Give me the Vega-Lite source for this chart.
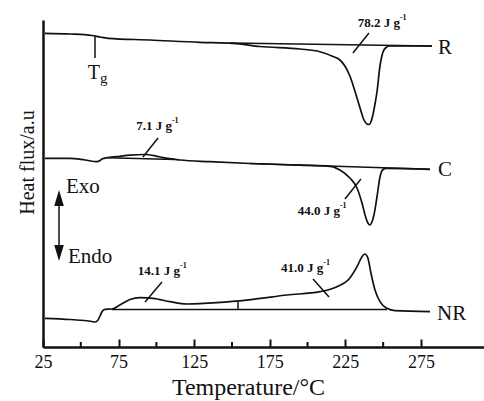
{
  "$schema": "https://vega.github.io/schema/vega-lite/v6.json",
  "width": 441,
  "height": 327,
  "autosize": {"type": "none"},
  "padding": {"left": 43, "top": 20, "right": 0, "bottom": 54},
  "background": "white",
  "config": {"view": {"stroke": null}, "font": "Liberation Serif"},
  "datasets": {
    "curves": [
      {"id": "R", "T": 26.3, "f": 313.7}, {"id": "R", "T": 42.9, "f": 313}, {"id": "R", "T": 57.4, "f": 311.5}, {"id": "R", "T": 62.7, "f": 310}, {"id": "R", "T": 68.0, "f": 308.7}, {"id": "R", "T": 95.8, "f": 307}, {"id": "R", "T": 128.8, "f": 304.7}, {"id": "R", "T": 150.7, "f": 303.7}, {"id": "R", "T": 168.5, "f": 300.5}, {"id": "R", "T": 195.0, "f": 298}, {"id": "R", "T": 208.2, "f": 295.3}, {"id": "R", "T": 216.8, "f": 290.5}, {"id": "R", "T": 221.4, "f": 287}, {"id": "R", "T": 224.7, "f": 281}, {"id": "R", "T": 228.0, "f": 271}, {"id": "R", "T": 231.3, "f": 256}, {"id": "R", "T": 234.7, "f": 239}, {"id": "R", "T": 237.3, "f": 227}, {"id": "R", "T": 239.3, "f": 223}, {"id": "R", "T": 240.6, "f": 222.5}, {"id": "R", "T": 241.9, "f": 225}, {"id": "R", "T": 243.2, "f": 232}, {"id": "R", "T": 244.6, "f": 243}, {"id": "R", "T": 245.9, "f": 255}, {"id": "R", "T": 247.9, "f": 281}, {"id": "R", "T": 249.9, "f": 295}, {"id": "R", "T": 251.9, "f": 299.5}, {"id": "R", "T": 254.5, "f": 301}, {"id": "R", "T": 282.3, "f": 301},
      {"id": "C", "T": 26.3, "f": 188.7}, {"id": "C", "T": 42.9, "f": 188.7}, {"id": "C", "T": 52.8, "f": 187}, {"id": "C", "T": 60.7, "f": 185.3}, {"id": "C", "T": 62.7, "f": 186.5}, {"id": "C", "T": 64.0, "f": 188}, {"id": "C", "T": 68.0, "f": 189.3}, {"id": "C", "T": 75.9, "f": 190.7}, {"id": "C", "T": 82.5, "f": 191.8}, {"id": "C", "T": 92.5, "f": 192.5}, {"id": "C", "T": 99.1, "f": 191.2}, {"id": "C", "T": 104.4, "f": 189.3}, {"id": "C", "T": 115.6, "f": 187}, {"id": "C", "T": 135.4, "f": 185.3}, {"id": "C", "T": 161.9, "f": 183.5}, {"id": "C", "T": 195.0, "f": 181.8}, {"id": "C", "T": 214.8, "f": 180.7}, {"id": "C", "T": 221.4, "f": 177}, {"id": "C", "T": 228.0, "f": 169}, {"id": "C", "T": 232.7, "f": 159}, {"id": "C", "T": 236.0, "f": 144}, {"id": "C", "T": 238.6, "f": 129}, {"id": "C", "T": 239.9, "f": 124}, {"id": "C", "T": 241.2, "f": 122}, {"id": "C", "T": 242.6, "f": 125}, {"id": "C", "T": 243.9, "f": 132}, {"id": "C", "T": 245.9, "f": 150}, {"id": "C", "T": 247.9, "f": 170}, {"id": "C", "T": 249.9, "f": 177.5}, {"id": "C", "T": 251.9, "f": 178.7}, {"id": "C", "T": 281.0, "f": 177.7},
      {"id": "NR", "T": 26.3, "f": 28.7}, {"id": "NR", "T": 42.9, "f": 27.5}, {"id": "NR", "T": 57.4, "f": 25.5}, {"id": "NR", "T": 59.4, "f": 25}, {"id": "NR", "T": 61.4, "f": 27}, {"id": "NR", "T": 62.7, "f": 31}, {"id": "NR", "T": 64.0, "f": 35.3}, {"id": "NR", "T": 66.0, "f": 37.7}, {"id": "NR", "T": 70.6, "f": 38}, {"id": "NR", "T": 75.9, "f": 42}, {"id": "NR", "T": 82.5, "f": 47.5}, {"id": "NR", "T": 89.2, "f": 49.3}, {"id": "NR", "T": 97.8, "f": 48.7}, {"id": "NR", "T": 109.0, "f": 45.3}, {"id": "NR", "T": 120.2, "f": 43}, {"id": "NR", "T": 140.1, "f": 44.3}, {"id": "NR", "T": 163.9, "f": 47.7}, {"id": "NR", "T": 186.4, "f": 52}, {"id": "NR", "T": 208.2, "f": 55.3}, {"id": "NR", "T": 219.4, "f": 60.3}, {"id": "NR", "T": 228.0, "f": 69}, {"id": "NR", "T": 232.7, "f": 80.3}, {"id": "NR", "T": 236.0, "f": 90.3}, {"id": "NR", "T": 237.9, "f": 93}, {"id": "NR", "T": 239.9, "f": 89}, {"id": "NR", "T": 241.9, "f": 74}, {"id": "NR", "T": 244.6, "f": 57}, {"id": "NR", "T": 247.9, "f": 45.3}, {"id": "NR", "T": 252.5, "f": 38.7}, {"id": "NR", "T": 257.8, "f": 36.3}, {"id": "NR", "T": 281.0, "f": 35.3}
    ],
    "segments": [
      {"id": "Rb", "T": 148.7, "f": 304}, {"id": "Rb", "T": 282.3, "f": 301},
      {"id": "Cb", "T": 161.9, "f": 183.5}, {"id": "Cb", "T": 281.0, "f": 177.7},
      {"id": "Cbb", "T": 68.0, "f": 189.3}, {"id": "Cbb", "T": 112.3, "f": 187.5},
      {"id": "NRb", "T": 70.6, "f": 37.5}, {"id": "NRb", "T": 252.5, "f": 37.5},
      {"id": "NRt", "T": 154.0, "f": 37.5}, {"id": "NRt", "T": 154.0, "f": 45.5},
      {"id": "Tgl", "T": 59.4, "f": 311}, {"id": "Tgl", "T": 59.4, "f": 289},
      {"id": "s78", "T": 230.0, "f": 294}, {"id": "s78", "T": 240.6, "f": 314},
      {"id": "s71", "T": 91.1, "f": 190}, {"id": "s71", "T": 101.1, "f": 209},
      {"id": "s44", "T": 224.7, "f": 148}, {"id": "s44", "T": 235.3, "f": 168},
      {"id": "s14", "T": 92.5, "f": 45}, {"id": "s14", "T": 103.7, "f": 65},
      {"id": "s41", "T": 203.6, "f": 68}, {"id": "s41", "T": 214.2, "f": 50},
      {"id": "arrow", "T": 35.6, "f": 149}, {"id": "arrow", "T": 35.6, "f": 94}
    ],
    "heads": [
      {"dir": "up", "T": 35.6, "f": 149},
      {"dir": "down", "T": 35.6, "f": 94}
    ],
    "minor": [{"T": 50}, {"T": 100}, {"T": 150}, {"T": 200}, {"T": 250}],
    "names": [
      {"T": 286.2, "f": 299, "txt": "R"},
      {"T": 286.2, "f": 177, "txt": "C"},
      {"T": 285.6, "f": 33, "txt": "NR"},
      {"T": 40.2, "f": 160, "txt": "Exo"},
      {"T": 41.5, "f": 90, "txt": "Endo"}
    ],
    "energy": [
      {"T": 261.1, "f": 320, "main": "78.2 J g", "sup": "-1"},
      {"T": 110.3, "f": 217, "main": "7.1 J g", "sup": "-1"},
      {"T": 221.4, "f": 132, "main": "44.0 J g", "sup": "-1"},
      {"T": 115.6, "f": 72, "main": "14.1 J g", "sup": "-1"},
      {"T": 210.4, "f": 75, "main": "41.0 J g", "sup": "-1"}
    ],
    "tg": [{"T": 62.7, "f": 268, "main": "T", "sub": "g"}]
  },
  "layer": [
    {
      "data": {"name": "curves"},
      "mark": {"type": "line", "interpolate": "monotone", "color": "#111", "strokeWidth": 1.7},
      "encoding": {
        "x": {"field": "T", "type": "quantitative", "scale": {"domain": [25, 316.7], "nice": false, "zero": false},
          "axis": {"values": [25, 75, 125, 175, 225, 275], "tickSize": -8, "tickWidth": 2, "tickColor": "#111", "domainColor": "#111", "domainWidth": 2.5, "labelFont": "Liberation Serif", "labelFontSize": 18, "labelColor": "#111", "labelPadding": 14, "labelFlush": false, "grid": false, "title": "Temperature/°C", "titleFont": "Liberation Serif", "titleFontSize": 24, "titleFontWeight": "normal", "titleColor": "#111", "titleBaseline": "alphabetic", "titleY": 47, "titleX": 205}},
        "y": {"field": "f", "type": "quantitative", "scale": {"domain": [0, 327], "nice": false, "zero": false},
          "axis": {"ticks": false, "labels": false, "grid": false, "domainColor": "#111", "domainWidth": 2.5, "title": "Heat flux/a.u", "titleFont": "Liberation Serif", "titleFontSize": 20, "titleFontWeight": "normal", "titleColor": "#111", "titleBaseline": "alphabetic", "titleX": -10, "titleY": 142, "titleAngle": -90, "titleAlign": "center"}},
        "detail": {"field": "id"}
      }
    },
    {
      "data": {"name": "segments"},
      "mark": {"type": "line", "color": "#111", "strokeWidth": 1.5},
      "encoding": {
        "x": {"field": "T", "type": "quantitative"},
        "y": {"field": "f", "type": "quantitative"},
        "detail": {"field": "id"},
        "order": {"field": "f"}
      }
    },
    {
      "data": {"name": "heads"},
      "transform": [{"filter": "datum.dir === 'up'"}],
      "mark": {"type": "point", "shape": "M0,-1L0.6,1L-0.6,1Z", "filled": true, "color": "#111", "opacity": 1, "size": 256, "strokeWidth": 0},
      "encoding": {"x": {"field": "T", "type": "quantitative"}, "y": {"field": "f", "type": "quantitative"}}
    },
    {
      "data": {"name": "heads"},
      "transform": [{"filter": "datum.dir === 'down'"}],
      "mark": {"type": "point", "shape": "M0,1L0.6,-1L-0.6,-1Z", "filled": true, "color": "#111", "opacity": 1, "size": 256, "strokeWidth": 0},
      "encoding": {"x": {"field": "T", "type": "quantitative"}, "y": {"field": "f", "type": "quantitative"}}
    },
    {
      "data": {"name": "minor"},
      "mark": {"type": "rule", "color": "#111", "strokeWidth": 2},
      "encoding": {"x": {"field": "T", "type": "quantitative"}, "y": {"datum": 0}, "y2": {"datum": 5}}
    },
    {
      "data": {"name": "names"},
      "mark": {"type": "text", "align": "left", "baseline": "middle", "font": "Liberation Serif", "fontSize": 21, "color": "#111"},
      "encoding": {"x": {"field": "T", "type": "quantitative"}, "y": {"field": "f", "type": "quantitative"}, "text": {"field": "txt"}}
    },
    {
      "data": {"name": "energy"},
      "mark": {"type": "text", "align": "right", "baseline": "alphabetic", "font": "Liberation Serif", "fontSize": 13, "fontWeight": "bold", "color": "#111"},
      "encoding": {"x": {"field": "T", "type": "quantitative"}, "y": {"field": "f", "type": "quantitative"}, "text": {"field": "main"}}
    },
    {
      "data": {"name": "energy"},
      "mark": {"type": "text", "align": "left", "baseline": "alphabetic", "font": "Liberation Serif", "fontSize": 8, "fontWeight": "bold", "color": "#111", "dy": -7},
      "encoding": {"x": {"field": "T", "type": "quantitative"}, "y": {"field": "f", "type": "quantitative"}, "text": {"field": "sup"}}
    },
    {
      "data": {"name": "tg"},
      "mark": {"type": "text", "align": "right", "baseline": "alphabetic", "font": "Liberation Serif", "fontSize": 20, "color": "#111"},
      "encoding": {"x": {"field": "T", "type": "quantitative"}, "y": {"field": "f", "type": "quantitative"}, "text": {"field": "main"}}
    },
    {
      "data": {"name": "tg"},
      "mark": {"type": "text", "align": "left", "baseline": "alphabetic", "font": "Liberation Serif", "fontSize": 15, "color": "#111", "dy": 4},
      "encoding": {"x": {"field": "T", "type": "quantitative"}, "y": {"field": "f", "type": "quantitative"}, "text": {"field": "sub"}}
    }
  ]
}
